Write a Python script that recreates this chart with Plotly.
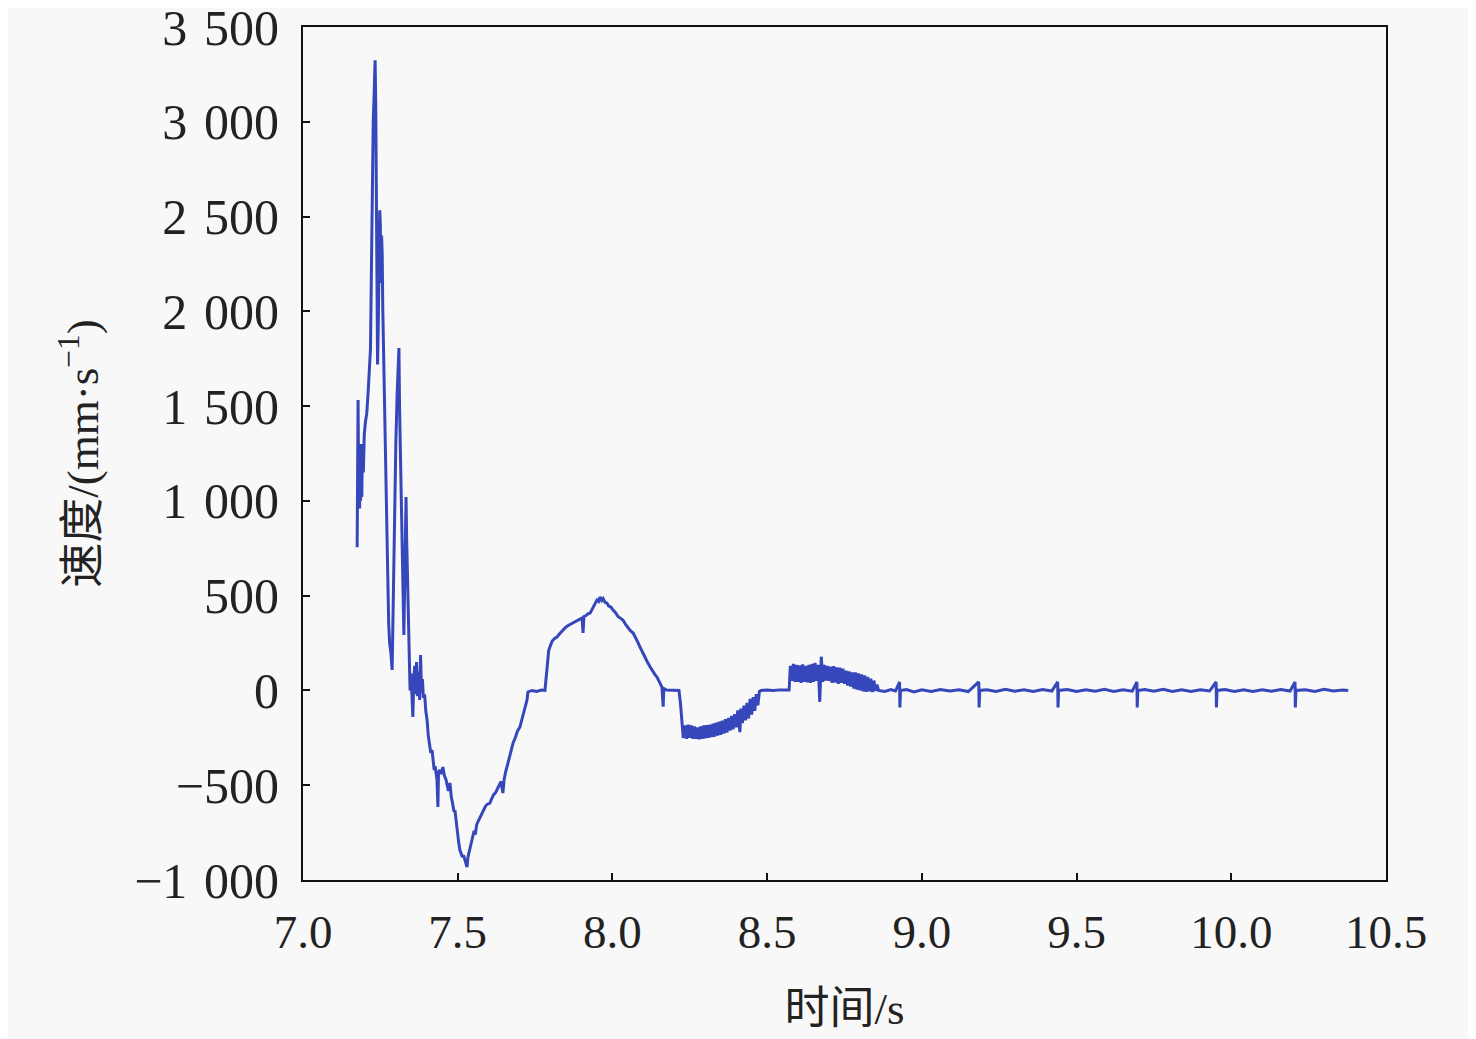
import plotly.graph_objects as go

# 时间 (s) 与 速度 (mm/s)，按图读出的近似值
t_start = [7.175, 7.177, 7.178, 7.180, 7.181, 7.183, 7.184, 7.186, 7.188, 7.190, 7.192, 7.195,
           7.198, 7.202, 7.206, 7.210, 7.214, 7.218, 7.221, 7.224, 7.227, 7.230, 7.233, 7.235,
           7.237, 7.239, 7.241, 7.243, 7.246, 7.248, 7.250, 7.252, 7.254, 7.256, 7.258, 7.261,
           7.265, 7.268, 7.271, 7.274, 7.277, 7.280, 7.284, 7.288, 7.291, 7.294, 7.297, 7.300,
           7.304, 7.307, 7.310, 7.312, 7.315, 7.318, 7.320, 7.322, 7.324, 7.326, 7.328, 7.330,
           7.333, 7.335, 7.337, 7.339, 7.341, 7.343, 7.346, 7.349, 7.352, 7.355, 7.358, 7.361,
           7.364, 7.367, 7.370, 7.373, 7.377, 7.380, 7.383, 7.386, 7.389, 7.393, 7.397]
v_start = [756, 1100, 1532, 1000, 1180, 960, 1250, 1000, 1300, 1020, 1280, 1150,
           1350, 1420, 1460, 1560, 1700, 1800, 2200, 2700, 3000, 3150, 3325, 3100,
           2600, 2050, 1720, 1900, 2200, 2533, 2450, 2150, 2400, 2300, 2000, 1700,
           1450, 1200, 900, 600, 350, 250, 200, 108, 400, 750, 1050, 1300,
           1550, 1700, 1806, 1500, 1200, 1000, 850, 650, 450, 292, 500, 750,
           1021, 800, 650, 480, 300, 160, 0, 90, -60, -140, 50, 130,
           -20, 150, -30, 100, -50, 187, -10, 60, -40, -20, -110]

t_trough = [7.401, 7.405, 7.409, 7.413, 7.417, 7.420, 7.424, 7.427, 7.430, 7.433, 7.436, 7.438,
            7.442, 7.447, 7.452, 7.457, 7.462, 7.466, 7.470, 7.475, 7.479, 7.484, 7.488, 7.491,
            7.495, 7.499, 7.503, 7.507, 7.511, 7.515, 7.519, 7.523, 7.527, 7.530, 7.533, 7.537,
            7.541, 7.545, 7.549, 7.553, 7.557, 7.561, 7.566, 7.572, 7.578, 7.584, 7.590, 7.596,
            7.604, 7.610, 7.616, 7.622, 7.627, 7.633, 7.640, 7.646, 7.650, 7.655, 7.659, 7.665,
            7.671, 7.679, 7.686, 7.693, 7.701, 7.708, 7.715, 7.720, 7.724, 7.727, 7.740, 7.755,
            7.770, 7.782]
v_trough = [-156, -240, -300, -330, -314, -380, -420, -400, -440, -470, -615, -430,
            -420, -440, -404, -450, -470, -500, -530, -488, -560, -600, -640, -631,
            -700, -760, -800, -842, -860, -878, -870, -895, -910, -932, -880, -850,
            -830, -790, -773, -740, -760, -710, -690, -668, -650, -630, -610, -600,
            -594, -570, -550, -540, -525, -500, -480, -541, -470, -430, -404, -360,
            -320, -277, -250, -215, -193, -150, -110, -80, -50, -8, 0, -5,
            2, 0]

t_peak = [7.786, 7.790, 7.794, 7.798, 7.805, 7.813, 7.821, 7.830, 7.840, 7.850, 7.860, 7.873,
          7.882, 7.890, 7.898, 7.902, 7.905, 7.908, 7.915, 7.922, 7.928, 7.935, 7.942, 7.950,
          7.955, 7.960, 7.965, 7.970, 7.976, 7.982, 7.988, 7.995, 8.002, 8.010, 8.018, 8.026,
          8.034, 8.042, 8.050, 8.058, 8.067, 8.075, 8.082, 8.089, 8.097, 8.105, 8.113, 8.122,
          8.130, 8.137, 8.144, 8.150, 8.156, 8.160, 8.164, 8.166, 8.175, 8.190, 8.205, 8.215,
          8.220, 8.225, 8.229]
v_peak = [80, 160, 210, 229, 260, 275, 282, 300, 319, 335, 345, 356,
          365, 372, 380, 382, 303, 390, 395, 405, 408, 430, 455, 477,
          470, 493, 475, 485, 465, 461, 445, 440, 424, 410, 390, 380,
          372, 350, 330, 315, 303, 280, 255, 229, 200, 170, 150, 124,
          100, 85, 71, 50, 30, 18, -86, 10, 2, 0, 2, 0,
          -70, -180, -251]

t_band1 = [8.235, 8.240, 8.245, 8.250, 8.255, 8.260, 8.265, 8.270, 8.275, 8.280, 8.285, 8.290,
           8.295, 8.300, 8.305, 8.310, 8.315, 8.320, 8.325, 8.330, 8.335, 8.340, 8.345, 8.350,
           8.355, 8.360, 8.365, 8.370, 8.375, 8.380, 8.385, 8.390, 8.395, 8.400, 8.405, 8.410,
           8.412, 8.415, 8.420, 8.425, 8.430, 8.435, 8.440, 8.445, 8.450, 8.455, 8.460, 8.465,
           8.470, 8.475, 8.480, 8.500, 8.520, 8.540, 8.560, 8.571]
v_band1 = [-185, -255, -180, -250, -185, -255, -190, -255, -195, -258, -190, -255,
           -185, -252, -183, -250, -180, -246, -175, -244, -170, -238, -165, -234,
           -160, -228, -152, -222, -145, -212, -135, -205, -125, -195, -105, -182,
           -220, -95, -172, -80, -158, -65, -148, -45, -128, -35, -108, -20,
           -78, -5, 0, 2, 0, 3, 0, 2]

t_band2 = [8.575, 8.580, 8.585, 8.590, 8.595, 8.600, 8.605, 8.610, 8.615, 8.620, 8.625, 8.630,
           8.635, 8.640, 8.645, 8.650, 8.655, 8.660, 8.665, 8.670, 8.675, 8.680, 8.685, 8.690,
           8.695, 8.700, 8.705, 8.710, 8.715, 8.720, 8.725, 8.730, 8.735, 8.740, 8.745, 8.750,
           8.755, 8.760, 8.765, 8.770, 8.775, 8.780, 8.785, 8.790, 8.795, 8.800, 8.805, 8.810,
           8.815, 8.820, 8.825, 8.830, 8.835, 8.840, 8.845, 8.850, 8.855, 8.860]
v_band2 = [130, 50, 140, 45, 135, 45, 132, 40, 138, 45, 130, 42,
           135, 40, 140, 45, 145, 50, 135, -60, 178, 45, 135, 52,
           130, 50, 125, 40, 128, 42, 122, 35, 120, 40, 115, 35,
           105, 25, 100, 20, 95, 10, 95, 5, 90, 0, 85, -5,
           80, -8, 72, -5, 62, -8, 52, -3, 30, 0]

t_tail = [8.880, 8.900, 8.915, 8.928, 8.929, 8.931, 8.950, 8.975, 9.000, 9.030, 9.060, 9.090,
          9.120, 9.150, 9.184, 9.185, 9.187, 9.210, 9.240, 9.270, 9.300, 9.330, 9.360, 9.390,
          9.420, 9.439, 9.440, 9.442, 9.470, 9.500, 9.530, 9.560, 9.590, 9.620, 9.650, 9.680,
          9.695, 9.696, 9.698, 9.720, 9.750, 9.780, 9.810, 9.840, 9.870, 9.900, 9.930, 9.951,
          9.952, 9.954, 9.980, 10.010, 10.040, 10.070, 10.100, 10.130, 10.160, 10.190, 10.206,
          10.207, 10.209, 10.240, 10.270, 10.300, 10.330, 10.360, 10.378]
v_tail = [-5, 5, -3, 45, -90, 0, 5, -8, 3, -5, 5, -3,
          4, -6, 45, -90, 0, 4, -5, 6, -4, 3, -6, 5,
          -3, 45, -90, 0, 5, -6, 4, -4, 6, -5, 3, -4,
          45, -90, 0, 5, -4, 6, -6, 3, -5, 4, -3, 45,
          -90, 0, 5, -5, 4, -6, 3, -4, 5, -3, 45,
          -90, 0, 4, -5, 6, -3, 2, 0]

t = t_start + t_trough + t_peak + t_band1 + t_band2 + t_tail
v = v_start + v_trough + v_peak + v_band1 + v_band2 + v_tail

serif = 'Liberation Serif, Times New Roman, Noto Sans CJK SC, serif'

fig = go.Figure()
fig.add_trace(go.Scatter(x=t, y=v, mode='lines',
                         line=dict(color='#3646bb', width=3),
                         showlegend=False))

# 页面 body 有 8px 外边距，这里把边距减去 8 来对齐
fig.update_layout(
    width=1476, height=1039,
    margin=dict(l=295, r=98, t=19, b=167),
    paper_bgcolor='#f8f8f8', plot_bgcolor='#f8f8f8',
    font=dict(family=serif, size=47, color='#222222'),
    separators='.\u2004',
)
fig.update_xaxes(
    range=[7.0, 10.5], dtick=0.5, tick0=7.0, tickformat='.1f',
    showline=True, linecolor='#111111', linewidth=2, mirror=True,
    ticks='inside', ticklen=7, tickcolor='#111111', tickwidth=2,
    showgrid=False, zeroline=False, ticklabelstandoff=10, automargin=False,
    ticklabeloverflow='allow',
    title=dict(text='时间/s', font=dict(family=serif, size=45), standoff=35),
)
fig.update_yaxes(
    range=[-1000, 3500], dtick=500, tick0=0, separatethousands=True,
    showline=True, linecolor='#111111', linewidth=2, mirror=True,
    ticks='inside', ticklen=7, tickcolor='#111111', tickwidth=2,
    tickfont=dict(size=50),
    showgrid=False, zeroline=False, ticklabelstandoff=12, automargin=False,
    ticklabeloverflow='allow',
    title=dict(text='速度/(mm·s<sup>−1</sup>)', font=dict(family=serif, size=45), standoff=21),
)

fig.write_html("out.html")
